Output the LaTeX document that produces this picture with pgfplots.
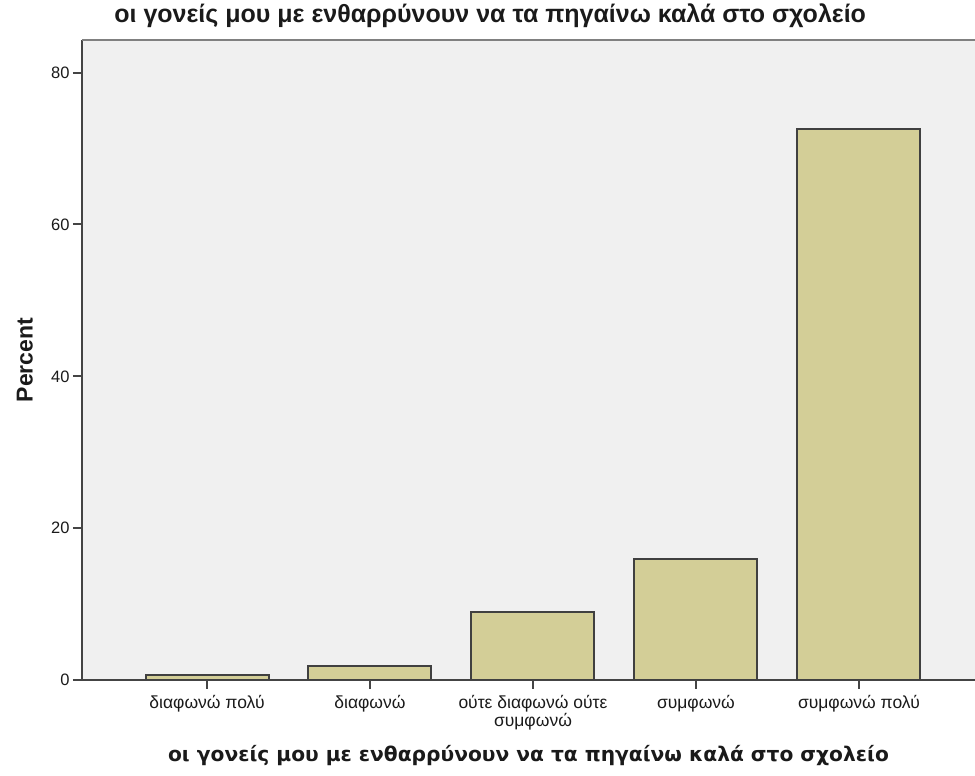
\documentclass[border=0pt]{standalone}
\usepackage{pgfplots}
\pgfplotsset{compat=1.18}
\usepackage{fontspec}
\setmainfont{Liberation Sans}
\newfontfamily\dejavu{DejaVu Sans}
\definecolor{bg}{HTML}{F0F0F0}
\definecolor{barfill}{HTML}{D3CE97}
\definecolor{axisc}{HTML}{444444}
\definecolor{txt}{HTML}{1A1A1A}
\begin{document}
\begin{tikzpicture}[x=1pt,y=1pt]
\path[use as bounding box] (0,0) rectangle (975,776);
\begin{axis}[
  at={(82pt,96pt)}, anchor=south west,
  scale only axis, width=893pt, height=640pt,
  xmin=-0.767, xmax=4.712, ymin=0, ymax=84.3,
  ybar, bar width=123pt,
  axis x line*=bottom, axis y line*=left,
  axis line style={axisc, line width=2.8pt},
  axis background/.style={fill=bg},
  ytick={0,20,40,60,80},
  xtick={0,1,2,3,4},
  xticklabels={διαφωνώ πολύ, διαφωνώ, {ούτε διαφωνώ ούτε\\συμφωνώ}, συμφωνώ, συμφωνώ πολύ},
  tick align=outside,
  major tick length=9pt,
  tick style={axisc, line width=2pt},
  /pgf/number format/assume math mode=true,
  yticklabel style={font=\fontsize{16.5}{16}\selectfont, text=txt},
  xticklabel style={align=center, font=\fontsize{17.5}{16}\selectfont, text=txt, yshift=-3pt},
  title={οι γονείς μου με ενθαρρύνουν να τα πηγαίνω καλά στο σχολείο},
  title style={at={(axis description cs:0.457,1.0172)}, anchor=base, font=\bfseries\fontsize{25}{25}\selectfont, text=txt},
  xlabel={οι γονείς μου με ενθαρρύνουν να τα πηγαίνω καλά στο σχολείο},
  xlabel style={at={(axis description cs:0.5,-0.128)}, anchor=base, font=\dejavu\bfseries\fontsize{20.2}{20}\selectfont, text=txt},
  ylabel={Percent},
  ylabel style={at={(axis description cs:-0.064,0.5)}, anchor=center, font=\bfseries\fontsize{23}{23}\selectfont, text=txt},
]
\draw[gray, line width=2.5pt] (rel axis cs:0,1) -- (rel axis cs:1,1);
\addplot[fill=barfill, draw=black!75, line width=2pt] coordinates {(0,0.6) (1,1.9) (2,8.9) (3,15.9) (4,72.6)};
\end{axis}
\end{tikzpicture}
\end{document}
